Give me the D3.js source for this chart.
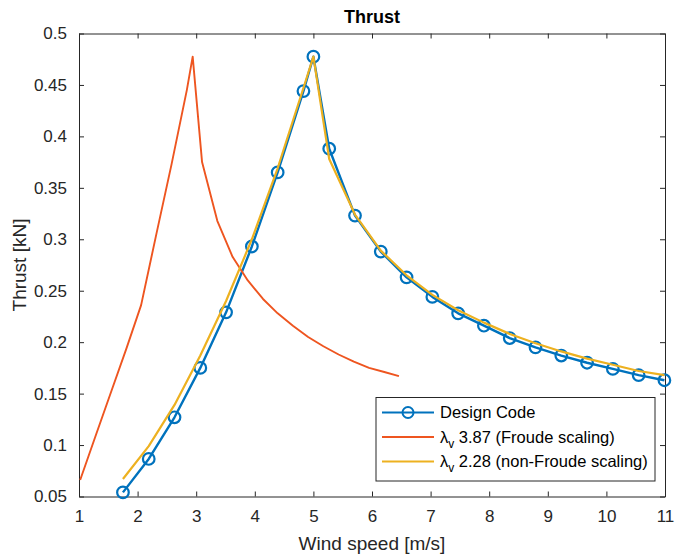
<!DOCTYPE html>
<html>
<head>
<meta charset="utf-8">
<script src="https://cdn.jsdelivr.net/npm/d3@7"></script>
<style>
  html, body { margin: 0; padding: 0; background: #ffffff; }
  svg { display: block; font-family: "Liberation Sans", Arial, Helvetica, sans-serif; }
</style>
</head>
<body>
<svg id="chart" width="676" height="555"></svg>
<script>
// Wind speed [m/s] and thrust [kN] for each series
const designSpeed = [1.75, 2.19, 2.63, 3.07, 3.51, 3.95, 4.39, 4.83, 5.00, 5.27, 5.71, 6.15, 6.59, 7.03, 7.47, 7.91, 8.35, 8.79, 9.23, 9.67, 10.11, 10.55, 10.99];
const designThrust = [0.054, 0.0865, 0.127, 0.175, 0.229, 0.293, 0.365, 0.444, 0.4775, 0.388, 0.323, 0.288, 0.263, 0.244, 0.228, 0.216, 0.204, 0.195, 0.187, 0.180, 0.174, 0.168, 0.163];

const froudeSpeed = [1.02, 1.29, 1.55, 1.81, 2.06, 2.32, 2.58, 2.84, 2.94, 3.10, 3.36, 3.62, 3.88, 4.14, 4.39, 4.65, 4.91, 5.17, 5.43, 5.69, 5.95, 6.21, 6.46];
const froudeThrust = [0.066, 0.110, 0.152, 0.194, 0.236, 0.305, 0.373, 0.445, 0.4775, 0.375, 0.318, 0.283, 0.260, 0.242, 0.228, 0.216, 0.205, 0.196, 0.188, 0.181, 0.175, 0.171, 0.167];

const nonFroudeSpeed = [1.75, 2.19, 2.63, 3.07, 3.51, 3.95, 4.39, 4.83, 5.00, 5.27, 5.71, 6.15, 6.59, 7.03, 7.47, 7.91, 8.35, 8.79, 9.23, 9.67, 10.11, 10.55, 10.99];
const nonFroudeThrust = [0.067, 0.099, 0.139, 0.187, 0.240, 0.300, 0.369, 0.447, 0.4775, 0.378, 0.324, 0.289, 0.265, 0.246, 0.231, 0.219, 0.208, 0.199, 0.191, 0.184, 0.178, 0.172, 0.168];

const xTicks = [1, 2, 3, 4, 5, 6, 7, 8, 9, 10, 11];
const yTicks = [0.05, 0.1, 0.15, 0.2, 0.25, 0.3, 0.35, 0.4, 0.45, 0.5];

const legendLabels = ["Design Code", "3.87 (Froude scaling)", "2.28 (non-Froude scaling)"];

const colors = { design: "#0072BD", froude: "#EE5520", nonFroude: "#EDB120" };
const axisColor = "#262626";

const svg = d3.select("#chart");
const W = 676, H = 555;
const margin = { left: 79, right: W - 665, top: 33.5, bottom: H - 496.5 };

const x = d3.scaleLinear().domain([1, 11]).range([margin.left, W - margin.right]);
const y = d3.scaleLinear().domain([0.05, 0.5]).range([H - margin.bottom, margin.top]);

const g = svg.append("g");

svg.append("defs").append("clipPath").attr("id", "plotClip")
  .append("rect")
  .attr("x", x(1) - 8).attr("y", y(0.5) - 8)
  .attr("width", x(11) - x(1) + 16).attr("height", y(0.05) - y(0.5) + 16);

const tickLen = 5;
const fmtY = d => String(+d.toFixed(2));

// Axes box with inward ticks on all four sides
const axBottom = d3.axisBottom(x).tickValues(xTicks).tickSize(-tickLen).tickSizeOuter(0).tickPadding(13).tickFormat(d3.format("d"));
const axTop = d3.axisTop(x).tickValues(xTicks).tickSize(-tickLen).tickSizeOuter(0).tickFormat("");
const axLeft = d3.axisLeft(y).tickValues(yTicks).tickSize(-tickLen).tickSizeOuter(0).tickPadding(12).tickFormat(fmtY);
const axRight = d3.axisRight(y).tickValues(yTicks).tickSize(-tickLen).tickSizeOuter(0).tickFormat("");

function styleAxis(sel) {
  sel.select(".domain").attr("stroke", axisColor).attr("stroke-width", 1);
  sel.selectAll(".tick line").attr("stroke", axisColor).attr("stroke-width", 1);
  sel.selectAll(".tick text").attr("fill", axisColor).attr("font-size", 17).attr("font-family", null);
}

g.append("g").attr("transform", `translate(0,${y(0.05)})`).call(axBottom).call(styleAxis);
g.append("g").attr("transform", `translate(0,${y(0.5)})`).call(axTop).call(styleAxis);
g.append("g").attr("transform", `translate(${x(1)},0)`).call(axLeft).call(styleAxis);
g.append("g").attr("transform", `translate(${x(11)},0)`).call(axRight).call(styleAxis);

// Series
const line = d3.line().x(d => x(d[0])).y(d => y(d[1]));
const series = [
  { key: "design", xs: designSpeed, ys: designThrust, width: 2.4, markers: true },
  { key: "froude", xs: froudeSpeed, ys: froudeThrust, width: 1.9, markers: false },
  { key: "nonFroude", xs: nonFroudeSpeed, ys: nonFroudeThrust, width: 2.2, markers: false }
];

const plot = svg.append("g").attr("clip-path", "url(#plotClip)");
series.forEach(s => {
  const pts = s.xs.map((v, i) => [v, s.ys[i]]);
  plot.append("path")
    .datum(pts)
    .attr("d", line)
    .attr("fill", "none")
    .attr("stroke", colors[s.key])
    .attr("stroke-width", s.width)
    .attr("stroke-linejoin", "round");
  if (s.markers) {
    plot.selectAll(null).data(pts).enter().append("circle")
      .attr("cx", d => x(d[0])).attr("cy", d => y(d[1]))
      .attr("r", 5.8)
      .attr("fill", "none")
      .attr("stroke", colors[s.key])
      .attr("stroke-width", 2.2);
  }
});

// Title and axis labels
svg.append("text")
  .attr("x", (x(1) + x(11)) / 2).attr("y", 23)
  .attr("text-anchor", "middle")
  .attr("font-size", 18).attr("font-weight", "bold").attr("fill", "#000")
  .text("Thrust");

svg.append("text")
  .attr("x", (x(1) + x(11)) / 2).attr("y", 550)
  .attr("text-anchor", "middle")
  .attr("font-size", 19).attr("fill", axisColor)
  .text("Wind speed [m/s]");

svg.append("text")
  .attr("transform", `translate(26,${(y(0.05) + y(0.5)) / 2}) rotate(-90)`)
  .attr("text-anchor", "middle")
  .attr("font-size", 19).attr("fill", axisColor)
  .text("Thrust [kN]");

// Legend
const lg = svg.append("g");
const lgX = 376, lgY = 397.5, lgW = 655 - 376, lgH = 481 - 397.5;
lg.append("rect")
  .attr("x", lgX).attr("y", lgY).attr("width", lgW).attr("height", lgH)
  .attr("fill", "#ffffff").attr("stroke", axisColor).attr("stroke-width", 1);

const rowsY = [412.5, 437, 461.5];
const lineX0 = lgX + 6, lineX1 = lgX + 58, textX = lgX + 64;
const legendKeys = ["design", "froude", "nonFroude"];
legendKeys.forEach((k, i) => {
  lg.append("line")
    .attr("x1", lineX0).attr("x2", lineX1)
    .attr("y1", rowsY[i]).attr("y2", rowsY[i])
    .attr("stroke", colors[k]).attr("stroke-width", 2.2);
  if (k === "design") {
    lg.append("circle")
      .attr("cx", (lineX0 + lineX1) / 2).attr("cy", rowsY[i]).attr("r", 5.5)
      .attr("fill", "none").attr("stroke", colors[k]).attr("stroke-width", 2);
  }
  const t = lg.append("text")
    .attr("x", textX).attr("y", rowsY[i] + 5.5)
    .attr("font-size", 16.5).attr("fill", "#000");
  if (k === "design") {
    t.text(legendLabels[i]);
  } else {
    t.append("tspan").text("\u03BB");
    t.append("tspan").attr("font-size", 12).attr("dy", 5).text("v");
    t.append("tspan").attr("dy", -5).text(" " + legendLabels[i]);
  }
});
</script>
</body>
</html>
